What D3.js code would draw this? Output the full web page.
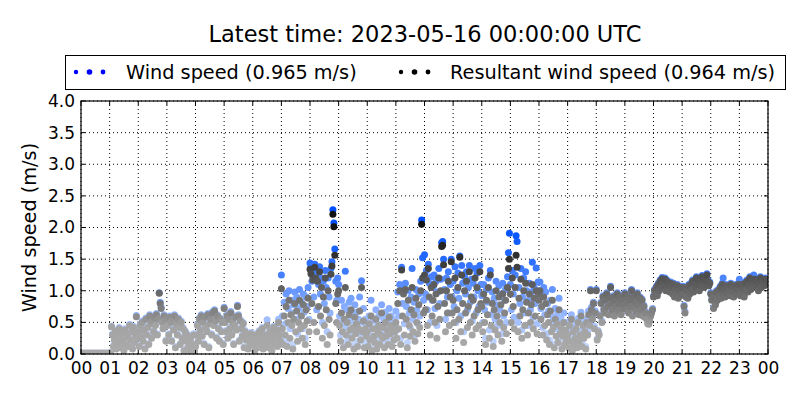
<!DOCTYPE html>
<html><head><meta charset="utf-8">
<script src="https://cdn.jsdelivr.net/npm/d3@7/dist/d3.min.js"></script>
<style>body{margin:0;background:#fff} svg{display:block} text{font-family:"DejaVu Sans",sans-serif;fill:#000}</style>
</head><body><svg id="c" width="800" height="400"></svg>
<script>
const titleText = "Latest time: 2023-05-16 00:00:00 UTC";
const seriesNames = ["Wind speed (0.965 m/s)", "Resultant wind speed (0.964 m/s)"];
const xTickLabels = ["00","01","02","03","04","05","06","07","08","09","10","11","12","13","14","15","16","17","18","19","20","21","22","23","00"];
const yTickValues = [0,0.5,1,1.5,2,2.5,3,3.5,4];
const yLabel = "Wind speed (m/s)";
const stepMinutes = 2;

// Wind speed, one value every 2 minutes (30 per hour), hours 00..23
const windSpeed = [
0.01,0.01,0.01,0.01,0.01,0.01,0.01,0.01,0.01,0.01,0.01,0.01,0.01,0.01,0.01,0.01,0.01,0.01,0.01,0.01,0.01,0.01,0.01,0.01,0.01,0.01,0.01,0.01,0.01,0.01,
0.02,0.03,0.44,0.32,0.14,0.24,0.37,0.1,0.3,0.2,0.42,0.27,0.12,0.35,0.22,0.07,0.4,0.17,0.29,0.32,0.14,0.47,0.24,0.37,0.1,0.44,0.2,0.32,0.61,0.27,
0.37,0.14,0.47,0.3,0.52,0.22,0.4,0.1,0.57,0.32,0.44,0.17,0.62,0.5,0.27,0.54,0.37,0.6,0.47,0.64,0.32,0.57,0.97,0.82,0.74,0.52,0.42,0.62,0.54,0.22,
0.57,0.47,0.32,0.6,0.52,0.22,0.54,0.4,0.62,0.12,0.5,0.32,0.57,0.44,0.17,0.52,0.27,0.42,0.07,0.37,0.22,0.32,0.12,0.03,0.2,0.27,0.1,0.17,0.32,0.07,
0.14,0.32,0.47,0.22,0.57,0.4,0.62,0.3,0.52,0.17,0.6,0.44,0.37,0.64,0.12,0.5,0.57,0.32,0.67,0.47,0.7,0.54,0.27,0.62,0.42,0.22,0.57,0.37,0.52,0.17,
0.74,0.52,0.37,0.62,0.27,0.57,0.42,0.67,0.32,0.52,0.17,0.47,0.6,0.4,0.77,0.62,0.22,0.54,0.42,0.3,0.5,0.12,0.37,0.24,0.32,0.1,0.27,0.17,0.34,0.22,
0.17,0.27,0.07,0.32,0.2,0.12,0.3,0.37,0.14,0.24,0.42,0.1,0.32,0.22,0.17,0.54,0.27,0.12,0.37,0.22,0.07,0.32,0.44,0.17,0.27,0.4,0.14,0.55,0.32,0.22,
1.25,0.6,0.25,0.82,0.48,0.95,0.2,0.72,1.0,0.4,0.85,0.65,0.15,0.78,0.98,0.55,0.9,0.32,0.72,1.02,0.6,0.82,0.4,0.95,0.66,0.25,0.9,0.75,1.05,0.55,
1.44,1.4,1.15,1.27,0.9,1.42,1.3,0.7,1.25,1.1,1.38,0.95,1.2,0.5,1.15,0.8,1.32,1.05,0.35,1.2,0.9,0.65,1.35,1.46,2.28,2.07,1.66,1.15,0.85,1.2,
1.1,0.6,0.3,0.85,0.5,0.18,0.75,1.31,0.42,0.7,0.25,0.82,0.52,0.88,0.35,0.6,0.14,0.78,0.45,0.66,0.2,0.55,0.9,0.32,1.16,0.5,0.72,0.18,0.55,0.4,
0.45,0.18,0.6,0.3,0.85,0.1,0.52,0.4,0.25,0.7,0.12,0.48,0.6,0.22,0.42,0.78,0.35,0.56,0.16,0.66,0.38,0.52,0.22,0.72,0.45,0.6,0.18,0.55,0.3,0.48,
0.68,0.38,0.98,0.6,1.1,0.25,1.37,0.8,1.08,0.48,1.12,0.75,0.18,1.0,0.65,0.42,0.9,1.35,0.55,0.82,0.3,1.02,0.7,0.48,0.95,0.6,1.15,2.12,1.52,0.85,
1.57,0.95,1.32,0.7,1.42,1.12,0.5,1.22,0.85,1.05,1.25,0.72,1.15,0.45,0.98,1.35,0.8,1.18,1.76,1.78,1.5,1.02,0.55,1.2,0.9,1.3,0.65,1.1,1.5,0.9,
1.15,0.75,1.38,0.5,1.0,1.28,0.88,1.55,0.6,1.4,1.12,0.35,1.22,0.95,1.3,0.7,1.05,1.4,0.82,1.18,0.52,1.12,0.9,1.35,0.65,1.28,1.0,0.75,1.4,1.1,
0.92,0.5,1.1,0.7,0.25,1.02,0.82,1.2,0.38,1.32,0.62,0.98,0.2,0.88,0.55,1.15,0.78,0.45,1.08,0.7,0.95,0.32,1.12,0.6,0.85,1.02,0.5,1.22,1.6,1.91,
1.1,0.7,1.32,0.95,0.58,1.25,1.87,1.78,0.5,1.05,0.8,1.35,0.38,0.9,1.2,0.65,1.3,1.0,0.45,0.85,1.12,0.7,0.98,1.45,0.58,1.05,0.8,1.36,0.48,1.14,
1.0,1.14,0.72,0.92,0.42,1.05,0.62,0.98,0.32,0.8,0.68,0.22,0.85,0.5,1.02,0.58,0.16,0.72,0.4,0.62,0.26,0.88,0.45,0.56,0.12,0.38,0.65,0.22,0.5,0.3,
0.38,0.15,0.52,0.26,0.62,0.1,0.42,0.2,0.32,0.48,0.15,0.56,0.35,0.36,0.66,0.18,0.5,0.3,0.42,0.12,0.55,0.36,0.68,0.5,1.02,0.74,0.58,0.82,0.44,0.68,
1.02,0.24,0.37,0.32,0.62,0.82,0.52,0.92,0.72,0.87,0.67,0.97,0.77,0.64,0.9,1.07,0.82,0.72,0.92,0.62,0.87,0.77,0.97,0.7,0.82,0.92,0.64,0.87,0.74,0.8,
0.97,0.82,0.72,0.92,0.67,0.87,0.77,1.02,0.62,0.92,0.74,0.84,0.7,0.97,0.8,0.64,0.9,0.72,0.87,0.62,0.77,0.6,0.67,0.57,0.5,0.49,0.54,0.62,0.67,0.72,
0.92,1.02,0.97,1.07,0.94,1.12,1.02,1.17,1.07,1.21,1.14,1.1,1.2,1.02,1.17,1.07,1.12,1.0,1.14,1.08,0.97,1.12,0.92,1.04,0.97,1.1,0.9,1.02,0.94,1.07,
0.97,1.07,0.77,0.67,0.92,1.02,0.9,1.1,0.97,1.12,1.04,1.17,1.0,1.14,1.07,1.22,1.12,1.2,1.02,1.17,1.1,1.24,1.14,1.07,1.2,1.12,1.27,1.17,1.1,1.14,
0.97,0.87,0.9,0.74,0.92,0.8,1.0,0.87,1.02,0.94,1.07,0.9,1.12,1.2,1.04,0.92,1.1,0.98,1.07,1.02,0.94,1.12,1.0,1.07,0.92,1.02,1.1,0.97,1.04,1.12,
1.18,0.94,1.12,0.97,1.07,0.92,1.14,1.02,1.17,1.0,1.1,1.22,1.04,1.17,1.12,1.25,1.2,1.14,1.1,1.17,1.02,1.12,1.22,1.07,1.17,1.14,1.1,1.2,1.12,1.17
];

// Resultant wind speed, same time steps
const resultantSpeed = [
0.01,0.01,0.01,0.01,0.01,0.01,0.01,0.01,0.01,0.01,0.01,0.01,0.01,0.01,0.01,0.01,0.01,0.01,0.01,0.01,0.01,0.01,0.01,0.01,0.01,0.01,0.01,0.01,0.01,0.01,
0.01,0.02,0.43,0.3,0.12,0.22,0.35,0.08,0.28,0.18,0.4,0.25,0.1,0.33,0.2,0.05,0.38,0.15,0.27,0.3,0.12,0.45,0.22,0.35,0.08,0.42,0.18,0.3,0.59,0.25,
0.35,0.12,0.45,0.28,0.5,0.2,0.38,0.08,0.55,0.3,0.42,0.15,0.6,0.48,0.25,0.52,0.35,0.58,0.45,0.62,0.3,0.55,0.96,0.8,0.72,0.5,0.4,0.6,0.52,0.2,
0.55,0.45,0.3,0.58,0.5,0.2,0.52,0.38,0.6,0.1,0.48,0.3,0.55,0.42,0.15,0.5,0.25,0.4,0.05,0.35,0.2,0.3,0.1,0.02,0.18,0.25,0.08,0.15,0.3,0.05,
0.12,0.3,0.45,0.2,0.55,0.38,0.6,0.28,0.5,0.15,0.58,0.42,0.35,0.62,0.1,0.48,0.55,0.3,0.65,0.45,0.68,0.52,0.25,0.6,0.4,0.2,0.55,0.35,0.5,0.15,
0.72,0.5,0.35,0.6,0.25,0.55,0.4,0.65,0.3,0.5,0.15,0.45,0.58,0.38,0.75,0.6,0.2,0.52,0.4,0.28,0.48,0.1,0.35,0.22,0.3,0.08,0.25,0.15,0.32,0.2,
0.15,0.25,0.05,0.3,0.18,0.1,0.28,0.35,0.12,0.22,0.4,0.08,0.3,0.2,0.15,0.45,0.25,0.1,0.35,0.2,0.05,0.3,0.42,0.15,0.25,0.38,0.12,0.5,0.3,0.2,
1.03,0.4,0.15,0.6,0.3,0.75,0.12,0.5,0.85,0.25,0.62,0.45,0.08,0.55,0.8,0.35,0.68,0.2,0.5,0.85,0.4,0.6,0.25,0.78,0.45,0.15,0.7,0.52,0.88,0.35,
1.34,1.27,0.8,1.17,0.5,1.37,1.2,0.35,1.15,0.75,1.3,0.6,1.05,0.25,0.9,0.45,1.2,0.7,0.15,1.0,0.55,0.3,1.26,1.39,2.21,2.01,1.56,0.8,0.5,0.95,
1.0,0.45,0.2,0.65,0.35,0.1,0.55,1.05,0.3,0.5,0.15,0.62,0.38,0.7,0.25,0.42,0.08,0.58,0.32,0.48,0.12,0.4,0.68,0.22,1.05,0.35,0.52,0.1,0.4,0.28,
0.35,0.12,0.48,0.22,0.6,0.05,0.4,0.28,0.18,0.55,0.08,0.36,0.45,0.15,0.3,0.65,0.25,0.42,0.1,0.5,0.28,0.38,0.15,0.58,0.32,0.45,0.12,0.4,0.22,0.35,
0.5,0.25,0.8,0.4,1.0,0.15,1.33,0.6,0.95,0.3,1.02,0.55,0.1,0.85,0.45,0.28,0.7,1.05,0.35,0.62,0.2,0.88,0.5,0.32,0.78,0.42,1.0,2.05,1.2,0.65,
1.25,0.7,1.17,0.45,1.35,0.9,0.3,1.05,0.6,0.85,1.1,0.5,0.95,0.25,0.75,1.2,0.55,1.0,1.7,1.72,1.41,0.8,0.35,1.0,0.65,1.15,0.45,0.9,1.46,0.65,
0.85,0.5,1.2,0.25,0.7,1.05,0.55,1.53,0.35,1.25,0.8,0.18,1.0,0.65,1.15,0.42,0.75,1.3,0.5,0.9,0.3,0.85,0.6,1.2,0.4,1.05,0.7,0.45,1.3,0.8,
0.75,0.35,0.95,0.5,0.15,0.85,0.62,1.05,0.25,1.25,0.45,0.8,0.12,0.7,0.38,1.0,0.6,0.3,0.9,0.5,0.78,0.2,0.95,0.42,0.65,0.85,0.32,1.05,1.35,1.5,
0.95,0.5,1.2,0.75,0.4,1.05,1.56,1.37,0.35,0.88,0.6,1.18,0.25,0.7,1.0,0.45,1.12,0.82,0.3,0.65,0.95,0.5,0.78,1.1,0.4,0.88,0.6,1.0,0.32,0.92,
0.85,1.0,0.55,0.75,0.3,0.9,0.45,0.8,0.22,0.62,0.5,0.15,0.68,0.35,0.85,0.42,0.1,0.55,0.28,0.48,0.18,0.7,0.32,0.42,0.08,0.28,0.5,0.15,0.38,0.22,
0.3,0.1,0.45,0.2,0.55,0.05,0.35,0.15,0.25,0.4,0.1,0.5,0.2,0.3,0.6,0.12,0.45,0.25,0.35,0.08,0.5,0.3,0.62,0.45,1.0,0.7,0.55,0.8,0.4,0.65,
1.0,0.22,0.35,0.3,0.6,0.8,0.5,0.9,0.7,0.85,0.65,0.95,0.75,0.62,0.88,1.05,0.8,0.7,0.9,0.6,0.85,0.75,0.95,0.68,0.8,0.9,0.62,0.85,0.72,0.78,
0.95,0.8,0.7,0.9,0.65,0.85,0.75,1.0,0.6,0.9,0.72,0.82,0.68,0.95,0.78,0.62,0.88,0.7,0.85,0.6,0.75,0.58,0.65,0.55,0.48,0.47,0.52,0.6,0.65,0.7,
0.9,1.0,0.95,1.05,0.92,1.1,1.0,1.15,1.05,1.19,1.12,1.08,1.18,1.0,1.15,1.05,1.1,0.98,1.12,1.06,0.95,1.1,0.9,1.02,0.95,1.08,0.88,1.0,0.92,1.05,
0.95,1.05,0.75,0.65,0.9,1.0,0.88,1.08,0.95,1.1,1.02,1.15,0.98,1.12,1.05,1.2,1.1,1.18,1.0,1.15,1.08,1.22,1.12,1.05,1.18,1.1,1.25,1.15,1.08,1.12,
0.95,0.85,0.88,0.72,0.9,0.78,0.98,0.85,1.0,0.92,1.05,0.88,1.1,0.95,1.02,0.9,1.08,0.96,1.05,1.0,0.92,1.1,0.98,1.05,0.9,1.0,1.08,0.95,1.02,1.1,
1.0,0.92,1.1,0.95,1.05,0.9,1.12,1.0,1.15,0.98,1.08,1.2,1.02,1.15,1.1,1.05,1.18,1.12,1.08,1.15,1.0,1.1,1.2,1.05,1.15,1.12,1.08,1.18,1.1,1.15
];

const svg = d3.select("#c");
const L = 81, R = 768, T = 101, B = 354;

const x = d3.scaleLinear().domain([0, 24]).range([L, R]);
const y = d3.scaleLinear().domain([0, 4]).range([B, T]);

// colour by value (light -> saturated)
const blueAlpha = d3.scaleLinear().domain([0, 0.5, 1, 1.5, 2]).range([0.2, 0.35, 0.6, 0.85, 1]).clamp(true);
const greyAlpha = d3.scaleLinear().domain([0, 0.45, 0.65, 1, 1.5, 2]).range([0.33, 0.36, 0.48, 0.6, 0.8, 0.93]).clamp(true);
const blueCol = v => d3.interpolateRgb("#ffffff", "#0050ff")(blueAlpha(v));
const greyCol = v => d3.interpolateRgb("#ffffff", "#000000")(greyAlpha(v));

// grid
const g = svg.append("g");
xTickLabels.forEach((lab, i) => {
  g.append("line").attr("x1", x(i)).attr("x2", x(i)).attr("y1", T).attr("y2", B)
    .attr("stroke", "#000").attr("stroke-width", 1).attr("stroke-dasharray", "1,3");
});
yTickValues.forEach(v => {
  g.append("line").attr("x1", L).attr("x2", R).attr("y1", y(v)).attr("y2", y(v))
    .attr("stroke", "#000").attr("stroke-width", 1).attr("stroke-dasharray", "1,3");
});

svg.append("defs").append("clipPath").attr("id", "clip")
  .append("rect").attr("x", L).attr("y", T).attr("width", R - L).attr("height", B - T);

const pts = svg.append("g").attr("clip-path", "url(#clip)");
const tOf = i => i * stepMinutes / 60;
pts.selectAll("circle.w").data(windSpeed).join("circle").attr("class", "w")
  .attr("cx", (d, i) => x(tOf(i))).attr("cy", d => y(d)).attr("r", 3.5)
  .attr("fill", d => blueCol(d));
pts.selectAll("circle.r").data(resultantSpeed).join("circle").attr("class", "r")
  .attr("cx", (d, i) => x(tOf(i))).attr("cy", d => y(d)).attr("r", 3.5)
  .attr("fill", d => greyCol(d));

// axes frame
svg.append("rect").attr("x", L).attr("y", T).attr("width", R - L).attr("height", B - T)
  .attr("fill", "none").attr("stroke", "#000").attr("stroke-width", 1.2);

// ticks (inward, all sides)
const tk = svg.append("g").attr("stroke", "#000").attr("stroke-width", 1);
xTickLabels.forEach((lab, i) => {
  tk.append("line").attr("x1", x(i)).attr("x2", x(i)).attr("y1", B).attr("y2", B - 4);
  tk.append("line").attr("x1", x(i)).attr("x2", x(i)).attr("y1", T).attr("y2", T + 4);
});
yTickValues.forEach(v => {
  tk.append("line").attr("x1", L).attr("x2", L + 4).attr("y1", y(v)).attr("y2", y(v));
  tk.append("line").attr("x1", R).attr("x2", R - 4).attr("y1", y(v)).attr("y2", y(v));
});

// tick labels
const xAxis = d3.axisBottom(x).tickValues(d3.range(xTickLabels.length))
  .tickFormat(i => xTickLabels[i]).tickSize(0).tickPadding(8);
const xa = svg.append("g").attr("transform", `translate(0,${B})`).call(xAxis);
xa.select(".domain").remove();
xa.selectAll("text").attr("font-size", 17).attr("font-family", "DejaVu Sans").attr("fill", "#000");

const yAxis = d3.axisLeft(y).tickValues(yTickValues).tickFormat(d3.format(".1f")).tickSize(0).tickPadding(6);
const ya = svg.append("g").attr("transform", `translate(${L},0)`).call(yAxis);
ya.select(".domain").remove();
ya.selectAll("text").attr("font-size", 17).attr("font-family", "DejaVu Sans").attr("fill", "#000");

// y label
svg.append("text").attr("transform", `translate(36,${(T + B) / 2}) rotate(-90)`)
  .attr("text-anchor", "middle").attr("font-size", 19.3).text(yLabel);

// title
svg.append("text").attr("x", 425).attr("y", 42).attr("text-anchor", "middle")
  .attr("font-size", 22.5).text(titleText);

// legend
const lg = svg.append("g");
lg.append("rect").attr("x", 65.5).attr("y", 55.5).attr("width", 720).attr("height", 34)
  .attr("fill", "#fff").attr("stroke", "#000").attr("stroke-width", 1);
const legendItems = [
  { name: seriesNames[0], color: "#0000ff", x0: 76, tx: 126 },
  { name: seriesNames[1], color: "#000000", x0: 401, tx: 450 }
];
const legendDotR = [2.2, 2.8, 2.4];
legendItems.forEach(it => {
  legendDotR.forEach((r, k) => {
    lg.append("circle").attr("cx", it.x0 + k * 13.5).attr("cy", 72).attr("r", r).attr("fill", it.color);
  });
  lg.append("text").attr("x", it.tx).attr("y", 79).attr("font-size", 19.3).text(it.name);
});
</script></body></html>
